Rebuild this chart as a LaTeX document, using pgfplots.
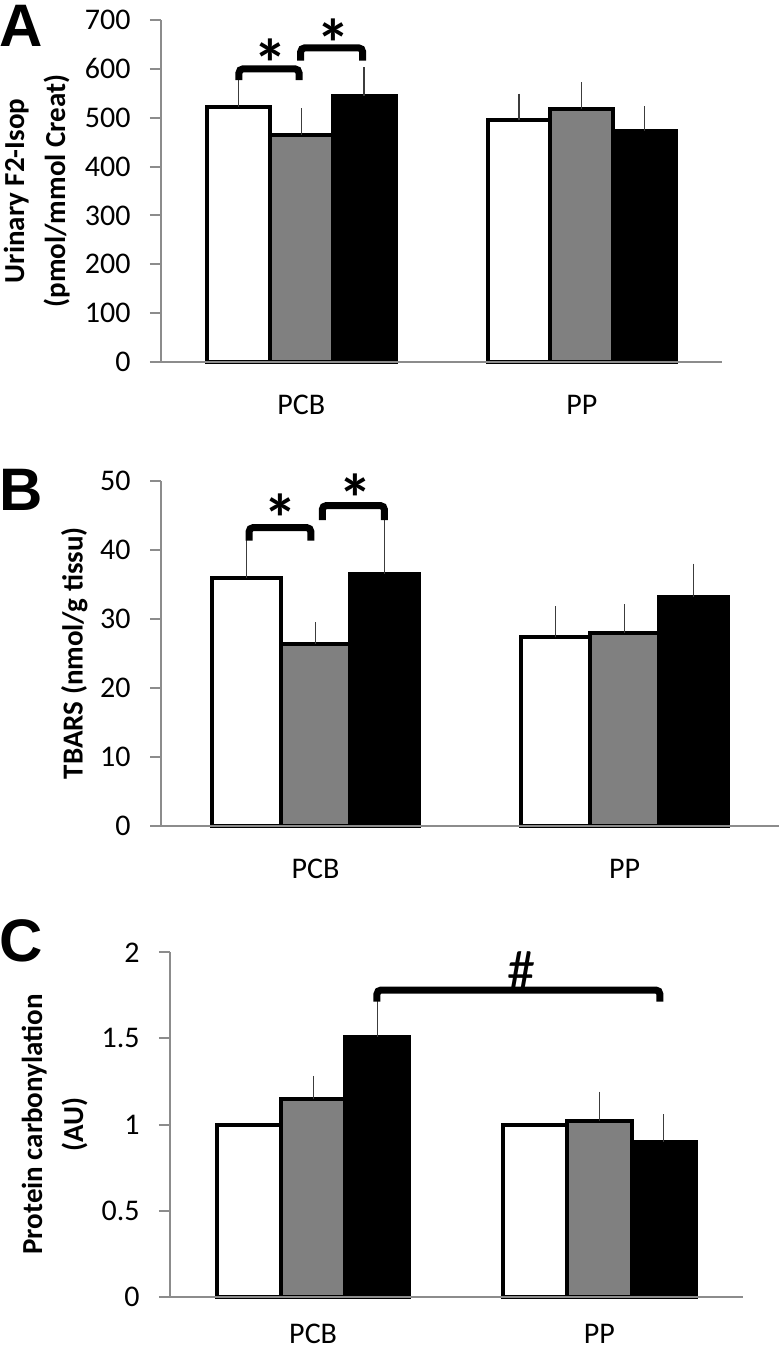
\documentclass[border=0pt]{standalone}
\usepackage{fontspec}
\setmainfont{Carlito}
\newfontfamily\panelfont{Liberation Sans}
\usepackage{pgfplots}
\pgfplotsset{compat=1.18}
\definecolor{axgray}{RGB}{140,140,140}
\definecolor{bargray}{RGB}{128,128,128}
\definecolor{errgray}{RGB}{60,60,60}
\pgfplotsset{
  panel/.style={
    scale only axis, clip=false, axis on top,
    xmin=-0.5, xmax=1.5, ymin=0,
    axis x line*=bottom, axis y line*=left,
    axis line style={-, draw=axgray, line width=1pt},
    xtick={0,1}, xticklabels={PCB,PP},
    major x tick style={draw=none},
    tick align=outside, major tick length=5.5pt,
    major y tick style={draw=axgray, line width=1pt},
    ticklabel style={font=\fontsize{15}{17}\selectfont},
    yticklabel style={inner sep=0pt, anchor=east, xshift=-9.5pt},
    xticklabel style={inner sep=0pt, anchor=north},
    /pgf/number format/assume math mode=true,
    ybar, bar width=0.224,
    ylabel style={font=\fontsize{14.5}{20.5}\selectfont\bfseries, align=center, inner sep=0pt, anchor=south},
  },
  wbar/.style={fill=white, draw=black, line width=2pt, bar shift=-0.224},
  gbar/.style={fill=bargray, draw=black, line width=2pt, bar shift=0},
  kbar/.style={fill=black, draw=black, line width=2pt, bar shift=0.224},
  errb/.style={error bars/.cd, y dir=plus, y explicit,
    error bar style={line width=0.65pt, draw=errgray, solid},
    error mark options={line width=0.65pt, draw=errgray, mark size=3.75pt}},
}
\begin{document}
\begin{tikzpicture}
\path[use as bounding box] (0pt,0pt) rectangle (391.5pt,-674pt);
% Panel A
\node[anchor=base west, inner sep=0pt, font=\panelfont\bfseries\fontsize{30}{30}\selectfont] at (-0.5pt,-23.5pt) {A};
\begin{axis}[panel, at={(80.5pt,-181pt)}, anchor=south west,
  width=280.5pt, height=171pt, ymax=700, ytick={0,100,...,700},
  xticklabel style={yshift=-11pt},
  ylabel={Urinary F2-Isop\\(pmol/mmol Creat)},
  ylabel style={at={(axis description cs:-0.1622,0.5)}}]
\addplot[wbar, errb] coordinates {(0,522) +- (0,43) (1,495) +- (0,39)};
\addplot[gbar, errb] coordinates {(0,465) +- (0,39) (1,517) +- (0,40)};
\addplot[kbar, errb] coordinates {(0,544) +- (0,44) (1,473) +- (0,35)};
\draw[line width=3.5pt, rounded corners=2pt] (axis cs:-0.222,577) -- (axis cs:-0.222,600) -- (axis cs:-0.008,600) -- (axis cs:-0.008,577);
\draw[line width=3.5pt, rounded corners=2pt] (axis cs:-0.002,617) -- (axis cs:-0.002,643) -- (axis cs:0.219,643) -- (axis cs:0.219,617);
\node[anchor=north, inner sep=0pt, font=\bfseries\fontsize{34}{34}\selectfont] at (axis cs:-0.111,663) {*};
\node[anchor=north, inner sep=0pt, font=\bfseries\fontsize{34}{34}\selectfont] at (axis cs:0.113,703) {*};
\end{axis}
% Panel B
\node[anchor=base west, inner sep=0pt, font=\panelfont\bfseries\fontsize{30}{30}\selectfont] at (-0.5pt,-255pt) {B};
\begin{axis}[panel, at={(80.5pt,-412.85pt)}, anchor=south west,
  width=309pt, height=172.5pt, ymax=50, ytick={0,10,...,50},
  xticklabel style={yshift=-11pt},
  ylabel={TBARS (nmol/g tissu)},
  ylabel style={at={(axis description cs:-0.1181,0.5)}}]
\addplot[wbar, errb] coordinates {(0,35.9) +- (0,4.6) (1,27.3) +- (0,3.4)};
\addplot[gbar, errb] coordinates {(0,26.4) +- (0,2.0) (1,28.0) +- (0,3.0)};
\addplot[kbar, errb] coordinates {(0,36.5) +- (0,6.9) (1,33.1) +- (0,3.8)};
\draw[line width=3.5pt, rounded corners=2pt] (axis cs:-0.215,41.3) -- (axis cs:-0.215,43.2) -- (axis cs:-0.015,43.2) -- (axis cs:-0.015,41.3);
\draw[line width=3.5pt, rounded corners=2pt] (axis cs:0.022,44.3) -- (axis cs:0.022,46.4) -- (axis cs:0.223,46.4) -- (axis cs:0.223,44.3);
\node[anchor=north, inner sep=0pt, font=\bfseries\fontsize{34}{34}\selectfont] at (axis cs:-0.112,48.2) {*};
\node[anchor=north, inner sep=0pt, font=\bfseries\fontsize{34}{34}\selectfont] at (axis cs:0.128,51.1) {*};
\end{axis}
% Panel C
\node[anchor=base west, inner sep=0pt, font=\panelfont\bfseries\fontsize{30}{30}\selectfont] at (-0.5pt,-480.5pt) {C};
\begin{axis}[panel, at={(85pt,-648.35pt)}, anchor=south west,
  width=286.3pt, height=172.2pt, ymax=2, ytick={0,0.5,...,2},
  xticklabel style={yshift=-8pt},
  ylabel={Protein carbonylation\\(AU)},
  ylabel style={at={(axis description cs:-0.1432,0.5)}}]
\addplot[wbar] coordinates {(0,1.0) (1,1.0)};
\addplot[gbar, errb] coordinates {(0,1.148) +- (0,0.091) (1,1.022) +- (0,0.126)};
\addplot[kbar, errb] coordinates {(0,1.51) +- (0,0.165) (1,0.90) +- (0,0.116)};
\draw[line width=3.5pt, rounded corners=2pt] (axis cs:0.223,1.713) -- (axis cs:0.223,1.781) -- (axis cs:1.211,1.781) -- (axis cs:1.211,1.713);
\node[anchor=north, inner sep=0pt, font=\fontsize{28}{28}\selectfont] at (axis cs:0.728,2.004) {\#};
\end{axis}
\end{tikzpicture}
\end{document}
